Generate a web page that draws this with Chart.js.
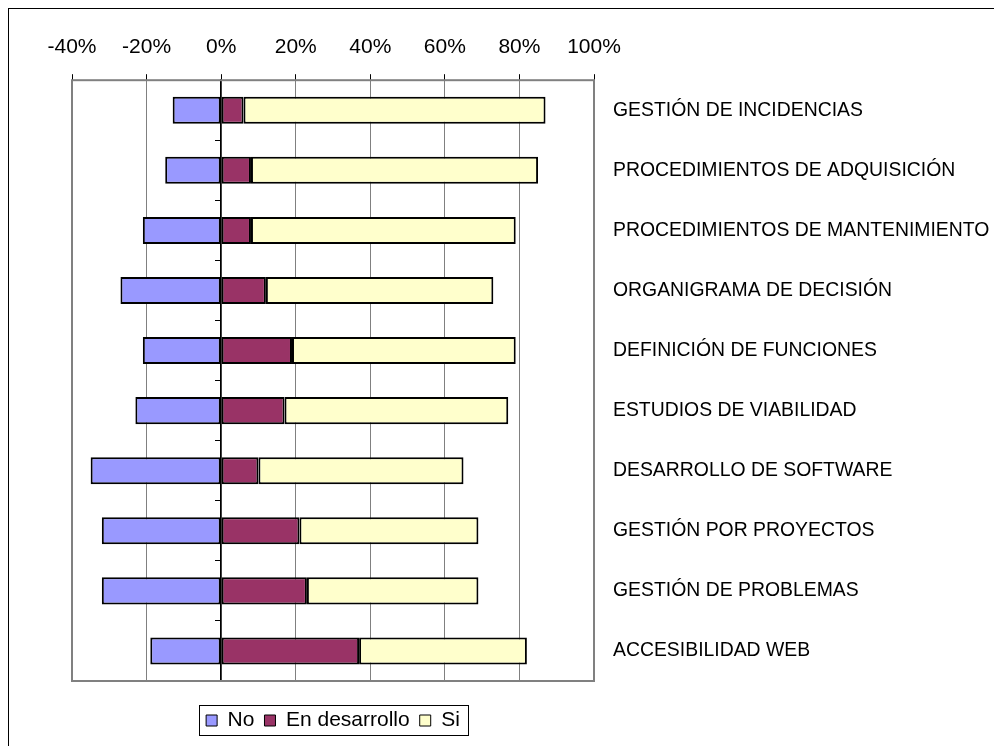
<!DOCTYPE html>
<html>
<head>
<meta charset="utf-8">
<script src="https://cdn.jsdelivr.net/npm/chart.js@4"></script>
<style>
  html, body { margin: 0; padding: 0; background: #fff; overflow: hidden; }
  #wrap { position: relative; width: 994px; height: 746px; }
  #marco { position: absolute; left: 8px; top: 8px; width: 1000px; height: 760px; border: 1px solid #000; }
  canvas { position: absolute; left: 0; top: 0; }
</style>
</head>
<body>
<div id="wrap">
  <div id="marco"></div>
  <canvas id="grafico" width="994" height="746"></canvas>
</div>
<script>
const categorias = [
  'GESTIÓN DE INCIDENCIAS',
  'PROCEDIMIENTOS DE ADQUISICIÓN',
  'PROCEDIMIENTOS DE MANTENIMIENTO',
  'ORGANIGRAMA DE DECISIÓN',
  'DEFINICIÓN DE FUNCIONES',
  'ESTUDIOS DE VIABILIDAD',
  'DESARROLLO DE SOFTWARE',
  'GESTIÓN POR PROYECTOS',
  'GESTIÓN DE PROBLEMAS',
  'ACCESIBILIDAD WEB'
];
// "No" se dibuja hacia la izquierda (valores negativos)
const no = [-13, -15, -21, -27, -21, -23, -35, -32, -32, -19];
const enDesarrollo = [6, 8, 8, 12, 19, 17, 10, 21, 23, 37];
const si = [81, 77, 71, 61, 60, 60, 55, 48, 46, 45];
const ticksX = [-40, -20, 0, 20, 40, 60, 80, 100];

Chart.defaults.font.family = '"Liberation Sans", Arial, sans-serif';
Chart.defaults.color = '#000';

// marco gris del area de trazado
const marcoArea = {
  id: 'marcoArea',
  beforeDatasetsDraw(chart) {
    const a = chart.chartArea, ctx = chart.ctx;
    ctx.save();
    ctx.strokeStyle = '#808080';
    ctx.lineWidth = 2;
    ctx.strokeRect(a.left, a.top, a.right - a.left, a.bottom - a.top);
    ctx.restore();
  }
};

// recuadro alrededor de la leyenda
const marcoLeyenda = {
  id: 'marcoLeyenda',
  afterDraw(chart) {
    const cajas = chart.legend.legendHitBoxes;
    if (!cajas || !cajas.length) return;
    const izq = Math.min(...cajas.map(c => c.left)) - 7;
    const der = Math.max(...cajas.map(c => c.left + c.width)) + 8;
    const arr = Math.min(...cajas.map(c => c.top)) - 5;
    const abj = Math.max(...cajas.map(c => c.top + c.height)) + 4;
    const ctx = chart.ctx;
    ctx.save();
    ctx.strokeStyle = '#000';
    ctx.lineWidth = 1;
    ctx.strokeRect(Math.round(izq) + 0.5, Math.round(arr) + 0.5, Math.round(der - izq), Math.round(abj - arr));
    ctx.restore();
  }
};

const ctx = document.getElementById('grafico').getContext('2d');

new Chart(ctx, {
  type: 'bar',
  data: {
    labels: categorias,
    datasets: [
      { label: 'No', data: no, backgroundColor: '#9999FF' },
      { label: 'En desarrollo', data: enDesarrollo, backgroundColor: '#993366' },
      { label: 'Si', data: si, backgroundColor: '#FFFFCC' }
    ].map(d => Object.assign(d, {
      borderColor: '#000',
      borderWidth: 2,
      borderSkipped: false,
      barPercentage: 0.45,
      categoryPercentage: 1
    }))
  },
  options: {
    indexAxis: 'y',
    responsive: false,
    animation: false,
    layout: { padding: { left: 72, right: 0, top: 21, bottom: 5 } },
    plugins: {
      tooltip: { enabled: false },
      legend: {
        position: 'bottom',
        fullSize: false,
        labels: {
          font: { size: 21 },
          boxWidth: 11,
          boxHeight: 11,
          padding: 10,
          generateLabels(chart) {
            return Chart.defaults.plugins.legend.labels.generateLabels(chart)
              .map(l => Object.assign(l, { lineWidth: 1 }));
          }
        }
      }
    },
    scales: {
      x: {
        position: 'top',
        stacked: true,
        min: -40,
        max: 100,
        afterBuildTicks: scale => { scale.ticks = ticksX.map(v => ({ value: v })); },
        ticks: {
          font: { size: 21 },
          padding: 14,
          callback: v => v + '%'
        },
        grid: { color: '#808080', lineWidth: 1, tickLength: 6, tickColor: '#000' },
        border: { color: '#000', width: 1 }
      },
      // eje vacio inferior: solo deja espacio entre el grafico y la leyenda
      xEspacio: {
        type: 'linear',
        position: 'bottom',
        min: -40,
        max: 100,
        ticks: { display: false },
        grid: { display: false },
        border: { display: false },
        afterFit: scale => { scale.height = 19; }
      },
      y: {
        position: { x: 0 },
        stacked: true,
        ticks: { display: false },
        grid: { drawOnChartArea: false, tickLength: 5, color: '#000', offset: true },
        border: { color: '#000', width: 1.5 }
      },
      y2: {
        type: 'category',
        position: 'right',
        offset: true,
        labels: categorias,
        grid: { display: false },
        border: { display: false },
        ticks: { font: { size: 19.4 }, padding: 11 },
        afterFit: scale => { scale.width = 400; }
      }
    }
  },
  plugins: [marcoArea, marcoLeyenda]
});
</script>
</body>
</html>
